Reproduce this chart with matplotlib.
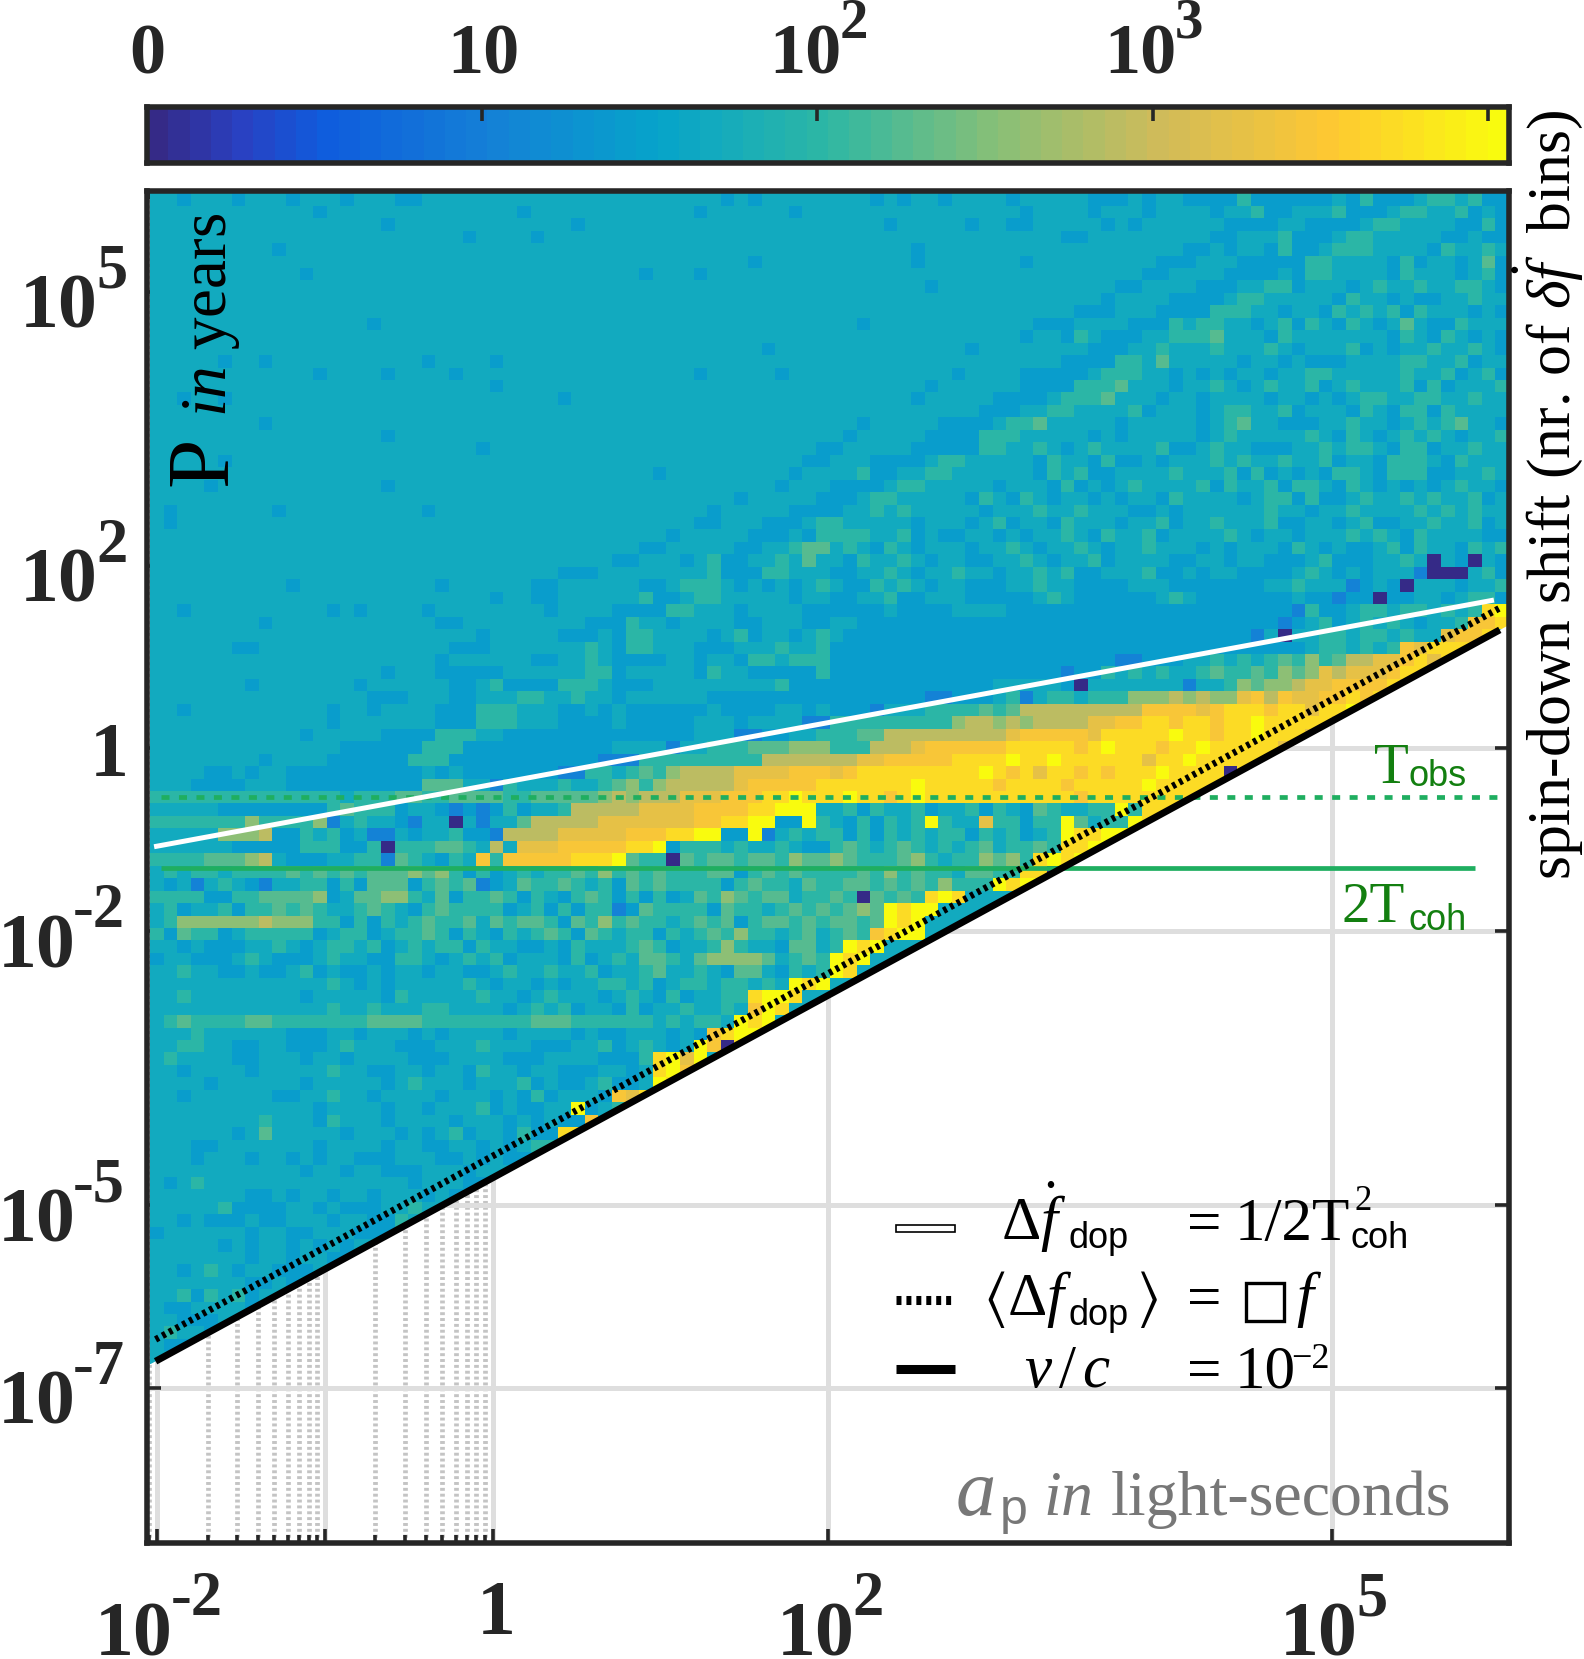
import numpy as np
import matplotlib
matplotlib.use("Agg")
import matplotlib.pyplot as plt
from matplotlib.colors import LinearSegmentedColormap, LogNorm
from matplotlib.lines import Line2D
from matplotlib.patches import Polygon, Rectangle

plt.rcParams.update({
    'font.family': ['Liberation Serif', 'DejaVu Serif'],
    'mathtext.fontset': 'custom',
    'mathtext.rm': 'Liberation Serif',
    'mathtext.it': 'Liberation Serif:italic',
    'mathtext.bf': 'Liberation Serif:bold',
    'mathtext.sf': 'Liberation Sans',
    'mathtext.fallback': 'stix',
})

# heatmap cell counts: each character is one level of LEVEL_COUNTS
LEVEL_KEYS = '0123456789abc'
LEVEL_COUNTS = [1, 5, 11, 26, 50, 105, 190, 370, 800, 1800, 3000, 5200, 11000]
COUNT_ROWS = """
4434443444 3444344433 4444444444 4444444444 4434344444 4443434434 4443444443 3343443333 5333333435 3334554533
4444444444 4434444444 4444444344 4444444444 3444444344 4444444444 4444344443 4443444434 4533444533 3455445343
4444444444 4444444344 4444444444 4344444444 4444444444 4444344444 3443344444 3434444443 3334433334 5544443353
4444444444 4444444444 4443444434 4444444444 4444444444 4444444444 4444444334 4444444433 4445333455 4444433433
4444444443 4444444444 4444444444 4444444444 4444444444 4444443444 4444444444 4444443343 4435334555 4444354454
4444444444 4444444444 4444444444 4444444444 4444344444 4444443444 4444344444 4444333444 3333355444 4353443463
4444444444 4344444444 4444444444 4444443444 3444444444 4444444444 4444444444 4443344443 3334355444 4354443453
4444444444 4444444444 4444444444 4444444444 4444444444 4444444344 4444444444 4334444333 4455344434 5445445543
4444444444 4444444444 4444444444 4444444444 4444444444 4444444444 4444444444 3444433334 5544444354 4343344544
4444444444 4444444444 4444444444 4444444444 4444444444 4444444444 4444444433 3444333355 5443443545 4535444343
4444444444 4444443444 4444444444 4444444444 4444444444 4434444444 4444433344 4433354554 4345354354 3464335444
4444444444 4444444444 4444444444 4444444444 4444444444 4444444444 4444344354 3334455564 4435444444 4354354343
4444444444 4444444444 4444444444 4444444444 4444434444 4444444444 3444444443 3344544454 4454344453 4344544543
4444434434 4444444444 3444434444 4444444444 4444444444 4444444444 4444444333 3554644444 3443433344 4455445344
4444444444 4434444344 4434444444 4444444444 3444443444 4444444443 4444333334 5554434343 4434455444 4454453453
4444444444 4444444444 4444434444 4444444444 4444444444 4444444344 4444333355 5644434454 3454453454 4453534445
4434434444 4444444444 4444444444 3444444444 4444444444 4444443444 4433334555 6444344344 4434434345 5445544544
4444444444 4444444444 4444444444 4444444444 4444444444 4444444444 4333445544 4453444345 5445344435 4355354444
4444444434 4444444444 4444444444 4444444444 4444444444 4434444433 3345564444 4344444345 6443334454 4345456443
4444444444 4444444344 4444444444 4444444444 4444444444 4344444333 3555444443 4344444345 4444454354 3454543445
4444444444 4444444444 4444344444 4444444444 4444444443 3444443333 3554454345 4444533454 4333445455 4355344544
4444434444 4444444444 4444444444 4444444444 4444444433 4443333455 4444435443 5334344454 5445445344 3555435444
4444444444 4444444444 4444444444 4444444344 4444444344 4453344554 4444435453 3444454445 3534343554 3555334454
4444344444 4444444344 4444444444 4444444444 4444443444 3333455444 4434443534 3454444535 4453554354 3434345443
4444444444 4444444444 4444444444 4444444444 4443444443 3345544444 3543543443 4344354444 3455353345 4454544534
4344444443 4444444444 3444444444 4444444444 4344444333 3445454444 4344454454 4433434444 4454434454 4445454544
4344444444 4444444444 4444444444 4444444444 3344433345 5444443444 3453443544 4344534454 4453344345 3344544534
4444444444 4444444444 4444444444 4444444434 4444333435 5554453433 4434344543 5445344445 4344344454 5435444433
4444444444 4444444444 4444444444 4444443344 4443344566 4543543444 3445434454 3445444343 4443543433 4535443545
4444444444 4444444444 4444444444 4444334443 4533445464 4354454344 3344543445 3444433443 4433345333 4454043043
4444444444 4444444444 4444444444 3334444444 4533355444 3344543445 4434454533 4445334344 3333454343 4442000453
4444444444 3444444444 4344444433 4444443345 5543434345 4335454344 3334454433 3344433333 3344544423 4304443445
4444444444 4444444444 4444434433 4444445334 5544444344 3344533444 3333345433 3333454333 3333433233 0334434553
4434444444 4443434444 3444444443 4444333355 4443444433 3333433334 4443333333 3333333333 3333253345 5455454 5bc
4444444434 4444444444 4334444444 4433354434 4443344433 4433333333 3333333333 3333333333 3332345345 4543445aab
4444444444 4444444444 4444344444 3334355444 4345344345 4333333333 3333333333 3333333333 3240445545 54544 9aab
4444443344 4444444444 4433344444 4454355444 3334445445 3333333333 3333333333 3333333333 3333345545 45a9bbbb44
4444444444 4444444444 4344444433 4454333344 3443554555 3333333333 3333333333 3223334454 5456575688 99ab9bb444
4444444444 4444444344 4333334444 4455344444 3544333335 3333333333 3333333233 5454544565 5657679899 9abb444444
4444444344 4444434444 4433453333 5554333444 4444445333 3333333333 3344444304 4444442445 7677899aaa ab99444444
4444444444 4444443334 4433444554 4544344444 4333333333 3333333223 3345245545 5577787877 9a8a99aaba bb94444444
4434444444 4443443444 4333555444 3343433333 3433334434 3332444555 5656888888 888aaaa9ab bbabb9bbcb 4444444444
4444444444 4443444444 4333555444 3333433333 4443444422 5555555557 8878788889 9aabbabbab bcbbbbb944 4444444444
4444444444 4344444333 3555443333 3333333333 4442233445 5566888888 8889aaaaa9 bbbbbcbbab bcbbb94444 4444444444
4444444444 4444333333 5553333333 3333444424 4555666777 5558889aaa aaabbbbbab cbbbabbcbb bbb9444444 4444444444
4444444434 4443333335 5533333333 3332225555 5555588888 8899aaaaab bbbcbbcbbb bbb9bbcbbb bb44444444 4444444444
4444334344 3333333333 4343333333 2255456578 8889999aaa 9abbbbbbbb bcbab9bbab abbbcbbbb0 b444444444 4444444444
4443333444 3333333333 6664425444 5445675788 8889aaaaab bbbbbbcbbb bbabbbbabb bbbcbbbbbb 4444444444 4444444444
5555555555 5555455566 5566665566 6667878889 99aaabbcbb bcbbabcbbb bbbbbbbbab bbbbbbbb44 4444444444 4444444444
4444433333 3335655534 4323235344 5888889999 aaaabbccc4 4535445344 5354365445 5c5bbbbb44 4444444444 4444444444
5555555755 5572454432 4404244688 8889999999 aabbcc33c5 4353545c54 4955355c64 55cbc44444 4444444444 4444444444
4444477783 3545342243 4453328888 99999aaabb cc33c24545 5353545455 3545345cbb ccb4444444 4444444444 4444444444
4444443333 3555335055 5665484999 aaaaabbc35 5545445433 5654565454 5645565bbc c444444444 4444444444 4444444444
5555666784 3334455265 4354a5aaaa abbbc65506 5665665766 7655567545 57675bcbcb 4444444444 4444444444 4444444444
4545545555 6565656667 6753534545 5657565655 5663565655 5565756554 6655bb0bcc 4444444444 4444444444 4444444444
4342454324 4553536663 5656234655 6545365655 5535655465 5665656575 55cbcc4444 4444444444 4444444444 4444444444
5555335566 6673466775 4635565354 3565353534 6576566455 6506565bcb 4444444444 4444444444 4444444444 4444444444
4534453556 5654456543 5655553453 5355236555 5365545656 5676cbcc44 4444444444 4444444444 4444444444 4444444444
4577777787 7755353545 6556465665 3657565545 6563566565 6656cbc444 4444444444 4444444444 4444444444 4444444444
5365534555 5534553455 6535435456 5365455354 5657554564 565abcc444 4444444444 4444444444 4444444444 4444444444
4434333445 4345545345 4553544334 3544456534 4575443664 5cbc444444 4444444444 4444444444 4444444444 4444444444
3443334543 3345443355 4345453444 3534546654 6777764565 cbc4444444 4444444444 4444444444 4444444444 4444444444
4454433433 4534334344 3443345445 4453445644 5436643545 cb44444444 4444444444 4444444444 4444444444 4444444444
4444444444 4445434344 4445434434 3445545345 5455454cbc 4444444444 4444444444 4444444444 4444444444 4444444444
4454444444 4344444354 4444544345 4443454353 4455bccb44 4444444444 4444444444 4444444444 4444444444 4444444444
4444444444 4445445444 5544443454 5344353445 4454acb444 4444444444 4444444444 4444444444 4444444444 4444444444
4565555665 5555556666 5555555566 6555555454 554cbc4444 4444444444 4444444444 4444444444 4444444444 4444444444
4445444444 3334434443 4344443444 4343344434 3abcc44444 4444444444 4444444444 4444444444 4444444444 4444444444
4455443344 3334544433 3444544433 3445345434 ca0b444444 4444444444 4444444444 4444444444 4444444444 4444444444
4544443344 4344344443 3344443334 4443335bc9 c444444444 4444444444 4444444444 4444444444 4444444444 4444444444
4434444344 4445443344 3443544344 3334434bca 4444444444 4444444444 4444444444 4444444444 4444444444 4444444444
4444344444 4344444345 4443444534 3345334cbc 4444444444 4444444444 4444444444 4444444444 4444444444 4444444444
4434444443 3445443444 4344434353 4443a9bab4 4444444444 4444444444 4444444444 4444444444 4444444444 4444444444
4444444444 4434444344 3444534334 4c34544444 4444444444 4444444444 4444444444 4444444444 4444444444 4444444444
4444444454 4435444344 4434443434 33a4344444 4444444444 4444444444 4444444444 4444444444 4444444444 4444444444
4444443464 4444344434 3453443533 bb44444444 4444444444 4444444444 4444444444 4444444444 4444444444 4444444444
4443344444 4434444344 3344343455 4444444444 4444444444 4444444444 4444444444 4444444444 4444444444 4444444444
4443444344 3434433344 4334343344 4444444444 4444444444 4444444444 4444444444 4444444444 4444444444 4444444444
4444444444 4344344333 4443444344 4444444444 4444444444 4444444444 4444444444 4444444444 4444444444 4444444444
4345444444 4444444443 4443334444 4444444444 4444444444 4444444444 4444444444 4444444444 4444444444 4444444444
4444444334 3443443444 3434544444 4444444444 4444444444 4444444444 4444444444 4444444444 4444444444 4444444444
4444453333 4434333445 4434434444 4444444444 4444444444 4444444444 4444444444 4444444444 4444444444 4444444444
4434333433 4443443354 5344444444 4444444444 4444444444 4444444444 4444444444 4444444444 4444444444 4444444444
3444444344 3344433344 4444444444 4444444444 4444444444 4444444444 4444444444 4444444444 4444444444 4444444444
4444434344 3434344344 4444444444 4444444444 4444444444 4444444444 4444444444 4444444444 4444444444 4444444444
4444444344 3443344444 4444444444 4444444444 4444444444 4444444444 4444444444 4444444444 4444444444 4444444444
4434543443 3344444444 4444444444 4444444444 4444444444 4444444444 4444444444 4444444444 4444444444 4444444444
4444444334 3444444444 4444444444 4444444444 4444444444 4444444444 4444444444 4444444444 4444444444 4444444444
4453545344 4444444444 4444444444 4444444444 4444444444 4444444444 4444444444 4444444444 4444444444 4444444444
4334444344 4444444444 4444444444 4444444444 4444444444 4444444444 4444444444 4444444444 4444444444 4444444444
4433344444 4444444444 4444444444 4444444444 4444444444 4444444444 4444444444 4444444444 4444444444 4444444444
4544344444 4444444444 4444444444 4444444444 4444444444 4444444444 4444444444 4444444444 4444444444 4444444444
4334444444 4444444444 4444444444 4444444444 4444444444 4444444444 4444444444 4444444444 4444444444 4444444444
4444444444 4444444444 4444444444 4444444444 4444444444 4444444444 4444444444 4444444444 4444444444 4444444444
""".strip().split("\n")

AP_TICKS = [1e-2, 1e-1, 1, 1e2, 1e5]
AP_BASES = ['10', '', '1', '10', '10']
AP_EXPS = ['-2', '', '', '2', '5']
AP_MINOR = [9e-3, 2e-2, 3e-2, 4e-2, 5e-2, 6e-2, 7e-2, 8e-2, 9e-2, 2e-1, 3e-1, 4e-1, 5e-1, 6e-1, 7e-1, 8e-1, 9e-1]
P_TICKS = [1e-7, 1e-5, 1e-2, 1, 1e2, 1e5]
P_BASES = ['10', '10', '10', '1', '10', '10']
P_EXPS = ['-7', '-5', '-2', '', '2', '5']
CBAR_TICKS = [1, 10, 100, 1000, 10000]
CBAR_BASES = ['0', '10', '10', '10', '']
CBAR_EXPS = ['', '', '2', '3', '']

LINE_AP = [1e-2 * 0.98, 10**6.0]
VC_P = [1.99e-5 * a for a in LINE_AP]           # v/c = 1e-2
MEAN_DOPPLER_P = [3.45e-5 * a for a in LINE_AP]
WHITE_AP = [9.6e-3, 9.23e5]
WHITE_P = [8.4e-2, 42.2]
T_OBS = 0.294
T_COH2 = 0.049
GREEN_AP = [1.05e-2, 7.1e5]
GREEN_DASH_AP = [1.05e-2, 1.0e6]

W, H = 1584, 1659
DARK = '#262626'
GREEN = '#1fae60'
LABEL_GREEN = '#137f10'
GRID = '#dedede'
PARULA = ['#352a87', '#2a3fc0', '#0f5cdd', '#1481d6', '#06a4ca', '#2eb7a4',
          '#87bf77', '#d1bb59', '#fec832', '#f9fb0e']
PARULA_POS = [0, 0.06, 0.125, 0.25, 0.375, 0.5, 0.625, 0.75, 0.875, 1]

fig = plt.figure(figsize=(W / 100, H / 100), dpi=100, facecolor='white')


def box(x0, x1, y0, y1):
    return [x0 / W, 1 - y1 / H, (x1 - x0) / W, (y1 - y0) / H]


def text_px(x, y, s, **kw):
    return fig.text(x / W, 1 - y / H, s, **kw)


def power_label(x, baseline, base, exp, size=56, sup_size=45, rise=40, gap=76):
    bold = dict(color=DARK, fontweight='bold', family='Liberation Serif', ha='left', va='baseline')
    text_px(x, baseline, base, fontsize=size, **bold)
    if exp:
        text_px(x + gap, baseline - rise, exp, fontsize=sup_size, **bold)


cmap = LinearSegmentedColormap.from_list('parula', list(zip(PARULA_POS, PARULA)), N=64)
norm = LogNorm(vmin=1, vmax=10**4.063)

ax = fig.add_axes(box(147, 1509, 190.5, 1543))
ax.set_xscale('log')
ax.set_yscale('log')
ax.set_xlim(10**-2.06, 10**6.055)
ax.set_ylim(10**-8.70, 10**6.11)

rows = [r.replace(' ', '').ljust(100, '4')[:100] for r in COUNT_ROWS]
counts = np.array([[LEVEL_COUNTS[LEVEL_KEYS.index(ch)] for ch in r] for r in rows], dtype=float)
x_edges = np.logspace(-2.06 + 0.018, 6.055, counts.shape[1] + 1)
y_edges = 10.0 ** (6.08 - 0.13636 * np.arange(counts.shape[0] + 1))
mesh = ax.pcolormesh(x_edges, y_edges, counts, cmap=cmap, norm=norm, shading='flat',
                     antialiased=False, edgecolors='none', zorder=1)
lim_x0, lim_x1 = ax.get_xlim()
lim_y0, lim_y1 = ax.get_ylim()
clip = Polygon([(lim_x0, lim_y1), (lim_x1, lim_y1), (lim_x1, 1.99e-5 * lim_x1),
                (lim_x0, 1.99e-5 * lim_x0)], closed=True, transform=ax.transData)
mesh.set_clip_path(clip)

# lines
ax.plot(LINE_AP, MEAN_DOPPLER_P, color='black', lw=4.8, ls=(0, (0.55, 0.6)), zorder=4, dash_capstyle='butt')
ax.plot(LINE_AP, VC_P, color='black', lw=5, solid_capstyle='butt', zorder=4)
ax.plot(WHITE_AP, WHITE_P, color='white', lw=3.6, solid_capstyle='butt', zorder=4)
ax.plot(GREEN_AP, [T_COH2, T_COH2], color=GREEN, lw=3.4, solid_capstyle='butt', zorder=3)
ax.plot(GREEN_DASH_AP, [T_OBS, T_OBS], color=GREEN, lw=3.4, ls=(0, (1.7, 2.0)), zorder=3)

# grid and ticks stay under the heatmap
ax.set_axisbelow(True)
ax.set_xticks(AP_TICKS)
ax.set_xticklabels([''] * len(AP_TICKS))
ax.set_xticks(AP_MINOR, minor=True)
ax.set_xticklabels([''] * len(AP_MINOR), minor=True)
ax.set_yticks(P_TICKS)
ax.set_yticklabels([''] * len(P_TICKS))
ax.set_yticks([], minor=True)
ax.tick_params(which='major', direction='in', length=10, width=2.6, color=DARK, top=True, right=True)
ax.tick_params(which='minor', direction='in', length=5.5, width=2.6, color=DARK, top=True, right=False)
ax.grid(True, which='major', color=GRID, lw=3.6, zorder=0.5)
ax.grid(True, which='minor', axis='x', color='#c4c4c4', lw=3.4, ls=(0, (0.62, 0.62)), zorder=0.5)
for s in ax.spines.values():
    s.set_linewidth(4)
    s.set_edgecolor(DARK)
    s.set_zorder(6)

fig.canvas.draw()
for a, b, e in zip(AP_TICKS, AP_BASES, AP_EXPS):
    if not b:
        continue
    tick_x = ax.transData.transform((a, 1))[0]
    if b == '1':
        power_label(tick_x - 16, 1634, b, e)
    else:
        power_label(tick_x - (62 if e.startswith('-') else 52), 1655, b, e)
for p, b, e in zip(P_TICKS, P_BASES, P_EXPS):
    tick_y = H - ax.transData.transform((1, p))[1]
    if b == '1':
        power_label(90, tick_y + 28, b, e)
    elif e.startswith('-'):
        power_label(-2, tick_y + 36, b, e, gap=75)
    else:
        power_label(20, tick_y + 36, b, e)

# colour bar
cax = fig.add_axes(box(147, 1509, 107, 162.5))
cax.set_xscale('log')
cax.set_xlim(1, 10**4.063)
cax.set_ylim(0, 1)
bar_edges = np.logspace(0, 4.063, 65)
bar_vals = np.sqrt(bar_edges[:-1] * bar_edges[1:])[None, :]
cax.pcolormesh(bar_edges, [0, 1], bar_vals, cmap=cmap, norm=norm, antialiased=False, zorder=1)
cax.set_xticks(CBAR_TICKS)
cax.set_xticklabels([''] * len(CBAR_TICKS))
cax.set_xticks([], minor=True)
cax.set_yticks([])
cax.set_axisbelow(False)
cax.tick_params(axis='x', which='major', direction='in', length=10, width=2.6, color=DARK,
                top=True, bottom=False, labeltop=False, labelbottom=False)
for s in cax.spines.values():
    s.set_linewidth(4)
    s.set_edgecolor(DARK)
fig.canvas.draw()
for v, b, e in zip(CBAR_TICKS, CBAR_BASES, CBAR_EXPS):
    if not b:
        continue
    tick_x = cax.transData.transform((v, 0.5))[0]
    offset = 18 if b == '0' else (48 if e else 35)
    power_label(tick_x - offset, 73, b, e, size=52, sup_size=41, rise=35, gap=70)

# axis titles inside and beside the panel
text_px(226, 486, 'P', rotation=90, fontsize=64, color='black', ha='left', va='baseline', rotation_mode='anchor')
text_px(226, 417, r'$\mathit{in}$ years', rotation=90, fontsize=47, color='black', ha='left', va='baseline',
        rotation_mode='anchor')
text_px(1570, 880, r'spin-down shift (nr. of $\delta\dot{f}\,\,$ bins)', rotation=90, fontsize=44.5, color='black',
        ha='left', va='baseline', rotation_mode='anchor')
GRAY = '#777777'
text_px(955, 1515, r'$\mathit{a}$', fontsize=58, color=GRAY, ha='left', va='baseline')
text_px(1000, 1524, 'p', fontsize=36, color=GRAY, family='Liberation Sans', ha='left', va='baseline')
text_px(1043, 1515, r'$\mathit{in}$', fontsize=46, color=GRAY, ha='left', va='baseline')
text_px(1111, 1515, 'light-seconds', fontsize=46, color=GRAY, ha='left', va='baseline')

# green annotations
text_px(1374, 783, 'T', fontsize=41, color=LABEL_GREEN, ha='left', va='baseline')
text_px(1408, 786, 'obs', fontsize=26, color=LABEL_GREEN, family='Liberation Sans', ha='left', va='baseline')
text_px(1342, 922, '2T', fontsize=41, color=LABEL_GREEN, ha='left', va='baseline')
text_px(1408, 930, 'coh', fontsize=26, color=LABEL_GREEN, family='Liberation Sans', ha='left', va='baseline')


# legend, hand placed as in the original annotation box
def swatch(y, **kw):
    fig.add_artist(Line2D([896 / W, 955 / W], [1 - y / H, 1 - y / H], transform=fig.transFigure, **kw))


SANS = dict(fontsize=26, color='black', family='Liberation Sans', ha='left', va='baseline')
MAIN = dict(fontsize=44, color='black', ha='left', va='baseline')
fig.add_artist(Rectangle((896 / W, 1 - 1232 / H), 59 / W, 7 / H, transform=fig.transFigure,
                         facecolor='white', edgecolor='black', lw=1.2))
swatch(1300, color='black', lw=6.5, ls=(0, (0.55, 0.55)))
swatch(1369, color='black', lw=6.5, solid_capstyle='butt')
text_px(1001, 1240, r'$\Delta\dot{f}$', **MAIN)
text_px(1069, 1248, 'dop', **SANS)
text_px(1178, 1240, r'$=$', **MAIN)
text_px(1235, 1240, '1/2T', **MAIN)
text_px(1354, 1210, '2', fontsize=25, color='black', ha='left', va='baseline')
text_px(1350, 1248, 'coh', **SANS)
text_px(983, 1315, r'$\langle\Delta f$', **MAIN)
text_px(1069, 1325, 'dop', **SANS)
text_px(1136, 1315, r'$\rangle$', **MAIN)
text_px(1178, 1315, r'$=$', **MAIN)
fig.add_artist(Rectangle((1246 / W, 1 - 1321 / H), 38 / W, 38 / H, transform=fig.transFigure,
                         facecolor='none', edgecolor='black', lw=2.4))
text_px(1296, 1315, r'$f$', **MAIN)
text_px(1024, 1387, r'$v\,/\,c$', **MAIN)
text_px(1178, 1387, r'$=$', **MAIN)
text_px(1235, 1387, '10', **MAIN)
text_px(1291, 1368, '\u22122', fontsize=26, color='black', ha='left', va='baseline')

fig.savefig('out.png', dpi=100, facecolor='white')
